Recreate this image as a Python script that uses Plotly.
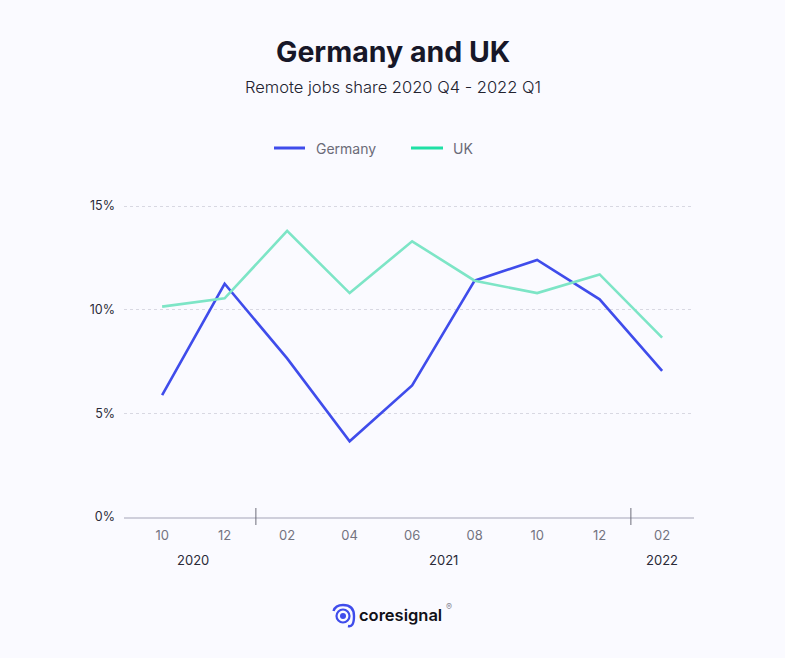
import plotly.graph_objects as go

months = ["10", "12", "02", "04", "06", "08", "10", "12", "02"]
germany = [5.88, 11.25, 7.65, 3.65, 6.35, 11.4, 12.4, 10.5, 7.05]
uk = [10.15, 10.55, 13.8, 10.8, 13.3, 11.4, 10.8, 11.7, 8.65]
years = ["2020", "2021", "2022"]
year_pos = [0.5, 4.5, 8]
year_breaks = [1.5, 7.5]
y_ticks = [0, 5, 10, 15]

FONT = "Inter"
BG = "#FAFAFF"
W, H = 785, 658
L, R, T, B = 124, 694, 190, 517
x_idx = list(range(len(months)))

fig = go.Figure()
fig.add_trace(go.Scatter(x=x_idx, y=germany, mode="lines", name="Germany",
                         line=dict(color="#3F4CEB", width=2.6)))
fig.add_trace(go.Scatter(x=x_idx, y=uk, mode="lines", name="UK",
                         line=dict(color="#7DE5C6", width=2.6)))

fig.update_layout(
    width=W, height=H,
    margin=dict(l=L, r=W - R, t=T, b=H - B, pad=0),
    paper_bgcolor=BG, plot_bgcolor=BG,
    font=dict(family=FONT),
    showlegend=False,
)
fig.update_xaxes(range=[-0.61, 8.51], tickvals=x_idx, ticktext=months, showgrid=False,
                 zeroline=False, ticks="", showline=True, linecolor="#CFCFDB", linewidth=1.5,
                 ticklabelstandoff=6, tickfont=dict(size=13, color="#73737F"))
fig.update_yaxes(range=[0, (B - T) / 20.73], tickvals=y_ticks, ticktext=[f"{v}%" for v in y_ticks],
                 showgrid=True, gridcolor="#D8D8E2", griddash="3px,3px", gridwidth=1.3,
                 zeroline=False, showline=False, ticks="",
                 ticklabelstandoff=8, tickfont=dict(size=12.5, color="#2A2A38"))

for b in year_breaks:
    fig.add_shape(type="line", xref="x", yref="paper", x0=b, x1=b,
                  y0=-8 / (B - T), y1=9 / (B - T), line=dict(color="#6E6E7A", width=1))
for name, p in zip(years, year_pos):
    fig.add_annotation(text=name, x=p, xref="x", y=-43 / (B - T), yref="paper",
                       showarrow=False, yanchor="middle", font=dict(size=13, color="#2A2A38"))


def px(x, y):
    return (x - L) / (R - L), (B - y) / (B - T)


def text(s, x, y, size, color, weight=400, anchor="center"):
    xp, yp = px(x, y)
    fig.add_annotation(text=s, x=xp, y=yp, xref="paper", yref="paper", showarrow=False,
                       xanchor=anchor, yanchor="middle",
                       font=dict(size=size, color=color, weight=weight))


def seg(x0, x1, y, color):
    a, yp = px(x0, y)
    b, _ = px(x1, y)
    fig.add_shape(type="line", xref="paper", yref="paper", x0=a, x1=b, y0=yp, y1=yp,
                  line=dict(color=color, width=3))


text("Germany and UK", 393, 51, 28.5, "#171728", 700)
text("Remote jobs share 2020 Q4 - 2022 Q1", 393, 87, 16.5, "#22222F", 300)
seg(274, 305, 148, "#3F4CEB")
seg(411, 443, 148, "#1FE0A5")
text("Germany", 314, 148.5, 14, "#6B6B78", 400, "left")
text("UK", 451, 148.5, 14, "#6B6B78", 400, "left")

# logo, drawn in pixel positions on top of the paper
for r, w, fill in [(3, 0, "#3F4CEB"), (6.5, 2.2, None)]:
    x0, y0 = px(343 - r, 616 - r)
    x1, y1 = px(343 + r, 616 + r)
    fig.add_shape(type="circle", xref="paper", yref="paper", x0=x0, y0=y0, x1=x1, y1=y1,
                  fillcolor=fill, line=dict(color="#3F4CEB", width=w))
a, ay = px(333.5, 611)
b, by = px(343, 605)
c, cy = px(354, 616)
d, dy = px(348, 626)
fig.add_shape(type="path", xref="paper", yref="paper",
              path=f"M {a} {ay} Q {(a + b) / 2 - 0.005} {by} {b} {by} Q {c} {by} {c} {cy} Q {c} {dy - 0.005} {d} {dy}",
              line=dict(color="#3F4CEB", width=2.4))
text("coresignal", 357, 615, 16.5, "#111118", 600, "left")
text("®", 444, 606, 9, "#8A8A95", 400, "left")

fig.write_html("out.html", config=dict(displayModeBar=False),
               post_script="document.body.style.margin='0';document.body.style.background='#FAFAFF';")
